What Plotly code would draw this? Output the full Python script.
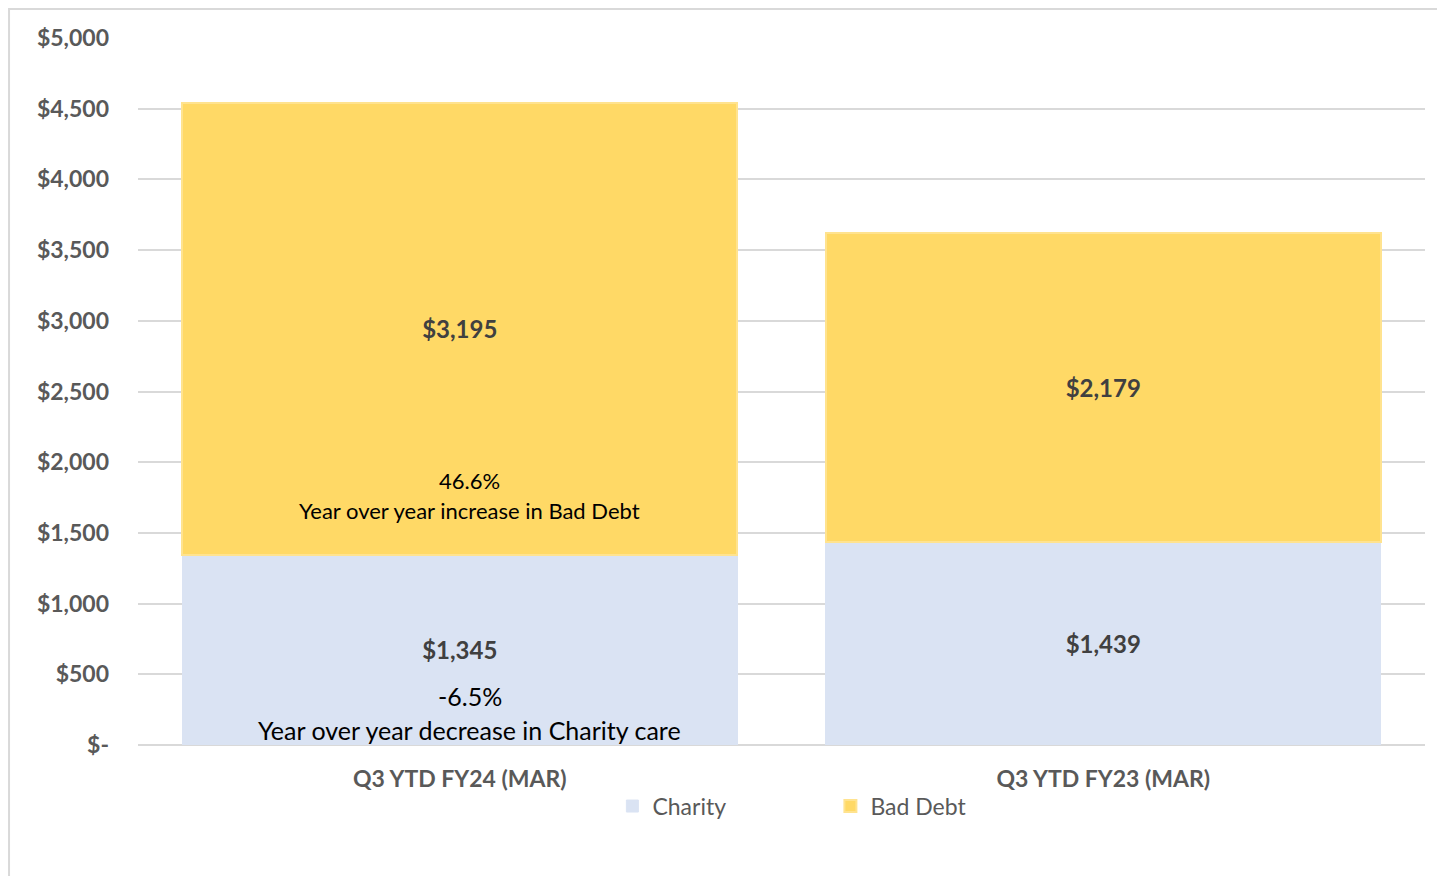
import plotly.graph_objects as go

categories = ["Q3 YTD FY24 (MAR)", "Q3 YTD FY23 (MAR)"]
charity = [1345, 1439]
bad_debt = [3195, 2179]
tick_vals = [0, 500, 1000, 1500, 2000, 2500, 3000, 3500, 4000, 4500, 5000]
tick_text = ["$-", "$500", "$1,000", "$1,500", "$2,000", "$2,500",
             "$3,000", "$3,500", "$4,000", "$4,500", "$5,000"]
note_text = ["46.6%", "Year over year increase in Bad Debt",
             "-6.5%", "Year over year decrease in Charity care"]

FONT = "Lato"
GRAY = "#595959"

fig = go.Figure()
fig.add_trace(go.Bar(
    x=categories, y=charity, name="Charity",
    marker=dict(color="#DAE3F3", line=dict(color="#DAE3F3", width=1)),
    texttemplate="$%{y:,}", textposition="inside", insidetextanchor="middle",
    textangle=0, constraintext="none",
    insidetextfont=dict(family=FONT, size=24, color="#404040", weight="bold"),
))
fig.add_trace(go.Bar(
    x=categories, y=bad_debt, name="Bad Debt",
    marker=dict(color="#FFD966", line=dict(color="#FFE38F", width=2)),
    texttemplate="$%{y:,}", textposition="inside", insidetextanchor="middle",
    textangle=0, constraintext="none",
    insidetextfont=dict(family=FONT, size=24, color="#404040", weight="bold"),
))

# text boxes inside the first bar (y in data units, font size)
note_pos = [(1874, 22), (1655, 22), (347, 25), (106, 25)]
for txt, (yv, sz) in zip(note_text, note_pos):
    fig.add_annotation(x=categories[0], y=yv, text=txt, showarrow=False,
                       xshift=10, font=dict(family=FONT, size=sz, color="#000000"))

# outer chart border
fig.add_shape(type="rect", xref="paper", yref="paper",
              x0=-0.1002, x1=1.03, y0=-0.25, y1=1.041,
              line=dict(color="#D9D9D9", width=2), layer="below")

fig.update_layout(
    width=1445, height=876,
    barmode="stack", bargap=0.138,
    paper_bgcolor="white", plot_bgcolor="white",
    margin=dict(l=130, r=28, t=30, b=139),
    font=dict(family=FONT, color=GRAY),
    showlegend=True,
    legend=dict(orientation="h", x=0.538, xanchor="center", y=-0.056, yanchor="top",
                traceorder="normal", bgcolor="rgba(0,0,0,0)",
                font=dict(family=FONT, size=23, color=GRAY),
                entrywidth=173, itemwidth=30),
    xaxis=dict(showgrid=False, showline=False, ticks="",
               tickfont=dict(family=FONT, size=23, color=GRAY, weight="bold"),
               ticklabelstandoff=18),
    yaxis=dict(range=[0, 5000], tickvals=tick_vals, ticktext=tick_text,
               showgrid=True, gridcolor="#D9D9D9", gridwidth=2,
               zeroline=True, zerolinecolor="#D9D9D9", zerolinewidth=2,
               showline=False, ticks="",
               tickfont=dict(family=FONT, size=23, color=GRAY, weight="bold"),
               ticklabelstandoff=28),
)

fig.write_html("out.html")
